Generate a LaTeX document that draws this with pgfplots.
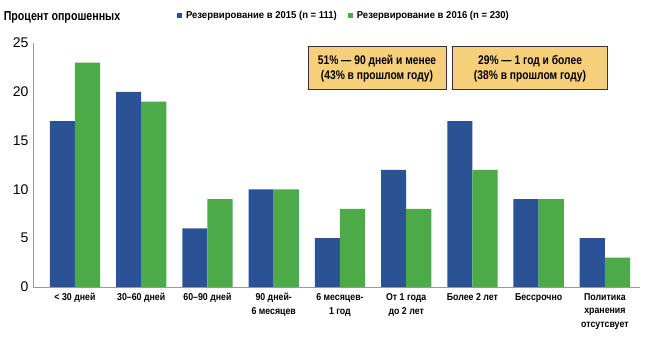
\documentclass[border=0pt]{standalone}
\usepackage{fontspec}
\setmainfont{Liberation Sans}[FakeStretch=0.82]
\newfontfamily\numfont{Liberation Sans}
\newfontfamily\legfont{Liberation Sans}[FakeStretch=0.95]
\newfontfamily\catfont{Liberation Sans}[FakeStretch=0.88]
\usepackage{pgfplots}
\pgfplotsset{compat=1.18}
\definecolor{cblue}{RGB}{44,82,150}
\definecolor{cgreen}{RGB}{76,170,72}
\definecolor{cbox}{RGB}{246,207,122}
\begin{document}
\begin{tikzpicture}
\begin{axis}[
  scale only axis, width=607pt, height=244pt,
  anchor=south west, at={(0,0)},
  ybar=0pt, bar width=0.38,
  xmin=-0.634, xmax=8.53, ymin=0, ymax=25,
  xtick={0,...,8},
  xticklabels={{< 30 дней},{30–60 дней},{60–90 дней},{90 дней-\\6 месяцев},{6 месяцев-\\1 год},{От 1 года\\до 2 лет},{Более 2 лет},{Бессрочно},{Политика\\хранения\\отсутсвует}},
  xticklabel style={align=center, font=\fontsize{10}{13.5}\selectfont\catfont\bfseries, yshift=-3pt},
  ytick={0,5,...,25},
  yticklabel style={font=\fontsize{14}{14}\selectfont\numfont, xshift=-1pt},
  /pgf/number format/assume math mode=true,
  major tick length=0pt,
  axis x line*=bottom, axis y line*=left,
  axis line style={draw=gray!80, -},
  legend style={at={(0.232,1.113)}, anchor=west, draw=none, fill=none, legend columns=2,
    font=\fontsize{10}{12}\selectfont\legfont\bfseries,
    /tikz/every even column/.append style={column sep=9pt},
    /tikz/every odd column/.append style={column sep=2pt}},
  legend image code/.code={\fill[#1] (0pt,-2.5pt) rectangle (5pt,2.5pt);},
  clip=false,
]
\addplot[draw=none, fill=cblue] coordinates {(0,17)(1,20)(2,6)(3,10)(4,5)(5,12)(6,17)(7,9)(8,5)};
\addplot[draw=none, fill=cgreen] coordinates {(0,23)(1,19)(2,9)(3,10)(4,8)(5,8)(6,12)(7,9)(8,3)};
\legend{Резервирование в 2015 (n = 111), Резервирование в 2016 (n = 230)}
\node[anchor=west, font=\fontsize{13}{13}\selectfont\bfseries] at (axis description cs:-0.054,1.107) {Процент опрошенных};
\node[draw=black!80, fill=cbox, line width=0.8pt, minimum width=138pt, minimum height=43pt, align=center,
  font=\fontsize{12.5}{15}\selectfont\bfseries] at (axis cs:4.56,22.4) {51\% — 90 дней и менее\\(43\% в прошлом году)};
\node[draw=black!80, fill=cbox, line width=0.8pt, minimum width=155pt, minimum height=43pt, align=center,
  font=\fontsize{12.5}{15}\selectfont\bfseries] at (axis cs:6.87,22.4) {29\% — 1 год и более\\(38\% в прошлом году)};
\end{axis}
\pgfresetboundingbox
\path[use as bounding box] (-33pt,-55pt) rectangle (617pt,287pt);
\end{tikzpicture}
\end{document}
